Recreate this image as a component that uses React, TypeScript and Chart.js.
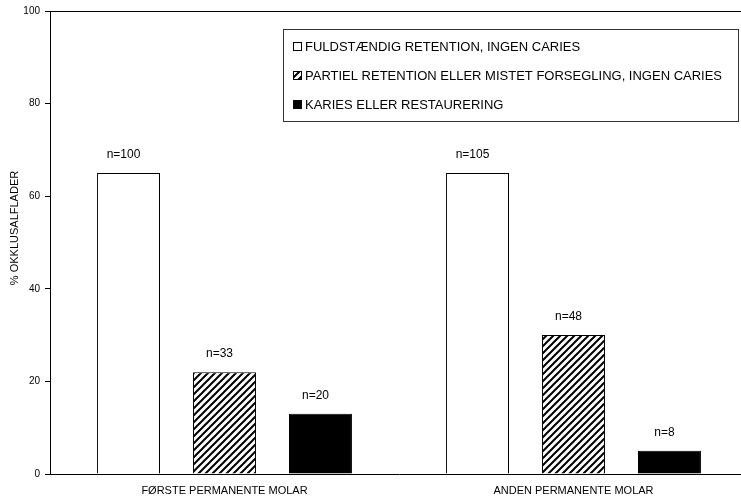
import React, { useEffect, useRef } from "react";
import { Chart, registerables } from "chart.js";

Chart.register(...registerables);

const categories = ["FØRSTE PERMANENTE MOLAR", "ANDEN PERMANENTE MOLAR"];
const seriesLabels = [
  "FULDSTÆNDIG RETENTION, INGEN CARIES",
  "PARTIEL RETENTION ELLER MISTET FORSEGLING, INGEN CARIES",
  "KARIES ELLER RESTAURERING",
];
const fullRetention = [65, 65];
const partialRetention = [22, 30];
const cariesRestoration = [13, 5];
const nFull = [100, 105];
const nPartial = [33, 48];
const nCaries = [20, 8];
const yTitle = "% OKKLUSALFLADER";
const yMin = 0;
const yMax = 100;
const yStep = 20;

const FONT = "'Liberation Sans', Arial, Helvetica, sans-serif";

export default function App() {
  const ref = useRef<HTMLCanvasElement>(null);

  useEffect(() => {
    document.body.style.margin = "0";
    const canvas = ref.current!;
    const tile = document.createElement("canvas");
    tile.width = 7;
    tile.height = 7;
    const t = tile.getContext("2d")!;
    t.fillStyle = "#fff";
    t.fillRect(0, 0, 7, 7);
    t.strokeStyle = "#000";
    t.lineWidth = 2;
    t.beginPath();
    t.moveTo(-1, 1);
    t.lineTo(1, -1);
    t.moveTo(-0.5, 7.5);
    t.lineTo(7.5, -0.5);
    t.moveTo(6, 8);
    t.lineTo(8, 6);
    t.stroke();
    const hatch = canvas.getContext("2d")!.createPattern(tile, "repeat")!;

    const counts = [nFull, nPartial, nCaries];
    const fills: (string | CanvasPattern)[] = ["#ffffff", hatch, "#000000"];

    const extras = {
      id: "extras",
      afterDatasetsDraw(chart: any) {
        const ctx = chart.ctx;
        ctx.save();
        ctx.fillStyle = "#000";
        ctx.font = `12px ${FONT}`;
        ctx.textAlign = "center";
        ctx.textBaseline = "middle";
        chart.data.datasets.forEach((_: any, i: number) => {
          const meta = chart.getDatasetMeta(i);
          meta.data.forEach((bar: any, j: number) => {
            ctx.fillText("n=" + counts[i][j], bar.x - 5, bar.y - 18);
          });
        });
        ctx.restore();
      },
      afterDraw(chart: any) {
        const ctx = chart.ctx;
        const a = chart.chartArea;
        ctx.save();
        // top frame line
        ctx.strokeStyle = "#000";
        ctx.lineWidth = 1;
        ctx.beginPath();
        ctx.moveTo(a.left, Math.round(a.top) + 0.5);
        ctx.lineTo(a.right, Math.round(a.top) + 0.5);
        ctx.stroke();

        // y title
        ctx.save();
        ctx.translate(15, 228);
        ctx.rotate(-Math.PI / 2);
        ctx.font = `11px ${FONT}`;
        ctx.fillStyle = "#000";
        ctx.textAlign = "center";
        ctx.textBaseline = "middle";
        ctx.fillText(yTitle, 0, 0);
        ctx.restore();

        // legend
        ctx.fillStyle = "#fff";
        ctx.fillRect(283, 29, 455, 92);
        ctx.strokeStyle = "#333";
        ctx.strokeRect(283.5, 29.5, 455, 92);
        const rows = [46.5, 75.5, 104.5];
        ctx.font = `13px ${FONT}`;
        ctx.textAlign = "left";
        ctx.textBaseline = "middle";
        chart.data.datasets.forEach((ds: any, i: number) => {
          const y = rows[i];
          ctx.fillStyle = fills[i];
          ctx.fillRect(293.5, Math.round(y - 4.5) + 0.5, 8, 8);
          ctx.strokeStyle = "#000";
          ctx.strokeRect(293.5, Math.round(y - 4.5) + 0.5, 8, 8);
          ctx.fillStyle = "#000";
          ctx.fillText(ds.label, 305, y + 0.5);
        });
        ctx.restore();
      },
    };

    const chart = new Chart(canvas, {
      type: "bar",
      data: {
        labels: categories,
        datasets: [
          {
            label: seriesLabels[0],
            data: fullRetention,
            backgroundColor: "#ffffff",
            borderColor: "#000",
            borderWidth: 1,
          },
          {
            label: seriesLabels[1],
            data: partialRetention,
            backgroundColor: hatch as any,
            borderColor: "#000",
            borderWidth: 1,
          },
          {
            label: seriesLabels[2],
            data: cariesRestoration,
            backgroundColor: "#000000",
            borderColor: "#000",
            borderWidth: 1,
          },
        ],
      },
      options: {
        responsive: false,
        animation: false,
        devicePixelRatio: 1,
        layout: { padding: { top: 10, left: 0, right: 0, bottom: 0 } },
        datasets: {
          bar: { categoryPercentage: 0.825, barPercentage: 0.656 },
        },
        plugins: {
          legend: { display: false },
          tooltip: { enabled: false },
        },
        scales: {
          x: {
            grid: { display: false, drawTicks: false },
            border: { display: true, color: "#000", width: 1 },
            ticks: {
              color: "#000",
              font: { family: FONT, size: 11 },
              padding: 10,
              maxRotation: 0,
            },
            afterFit(scale: any) {
              scale.height = 27;
            },
          },
          y: {
            min: yMin,
            max: yMax,
            grid: {
              drawOnChartArea: false,
              drawTicks: true,
              tickLength: 5,
              color: "#000",
            },
            border: { display: true, color: "#000", width: 1 },
            ticks: {
              stepSize: yStep,
              color: "#000",
              font: { family: FONT, size: 10 },
              padding: 5,
            },
            afterFit(scale: any) {
              scale.width = 50;
            },
          },
        },
      },
      plugins: [extras],
    });

    return () => chart.destroy();
  }, []);

  return (
    <div style={{ width: 741, height: 501, overflow: "hidden", position: "relative" }}>
      <canvas ref={ref} width={748} height={501} style={{ display: "block", width: 748, height: 501 }} />
    </div>
  );
}
